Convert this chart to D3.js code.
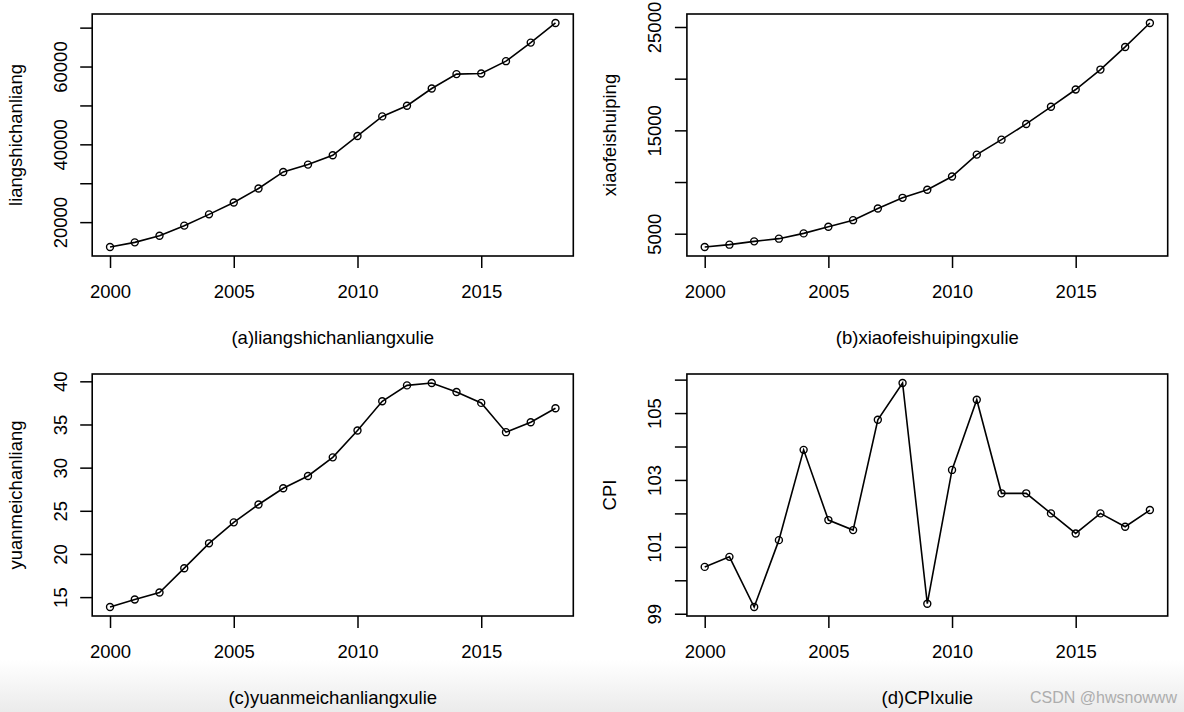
<!DOCTYPE html>
<html><head><meta charset="utf-8">
<script src="https://cdn.jsdelivr.net/npm/d3@7"></script>
<style>html,body{margin:0;padding:0;background:#fff;overflow:hidden}</style>
</head><body>
<svg id="chart" width="1184" height="712"></svg>
<script>
// ---- data ----
const years = [2000,2001,2002,2003,2004,2005,2006,2007,2008,2009,2010,2011,2012,2013,2014,2015,2016,2017,2018];
const xTicks = [2000,2005,2010,2015];
const liangshichanliang = [13600,14800,16500,19100,22000,25050,28640,32900,34790,37180,42150,47180,49920,54360,58050,58200,61380,66150,71200];
const xiaofeishuiping = [3710,3940,4260,4520,5030,5670,6310,7440,8470,9250,10530,12650,14100,15620,17280,18950,20880,23070,25390];
const yuanmeichanliang = [13.85,14.72,15.53,18.35,21.23,23.66,25.73,27.61,29.03,31.19,34.31,37.69,39.53,39.81,38.77,37.5,34.11,35.26,36.88];
const cpiValues = [100.4,100.7,99.2,101.2,103.9,101.8,101.5,104.8,105.9,99.3,103.3,105.4,102.6,102.6,102.0,101.4,102.0,101.6,102.1];

const yTicksA = [20000,30000,40000,50000,60000,70000];
const yLabelsA = ["20000","","40000","","60000",""];
const yTicksB = [5000,10000,15000,20000,25000];
const yLabelsB = ["5000","","15000","","25000"];
const yTicksC = [15,20,25,30,35,40];
const yLabelsC = ["15","20","25","30","35","40"];
const yTicksD = [99,100,101,102,103,104,105,106];
const yLabelsD = ["99","","101","","103","","105",""];

const titles = ["(a)liangshichanliangxulie","(b)xiaofeishuipingxulie","(c)yuanmeichanliangxulie","(d)CPIxulie"];
const yNames = ["liangshichanliang","xiaofeishuiping","yuanmeichanliang","CPI"];

// ---- layout ----
const svg = d3.select("#chart");
const FONT = "'Liberation Sans', Arial, Helvetica, sans-serif";
const FS = 18.5;

const defs = svg.append("defs");
const grad = defs.append("linearGradient").attr("id","bg").attr("x1",0).attr("y1",0).attr("x2",0).attr("y2",1);
grad.append("stop").attr("offset","0%").attr("stop-color","#ffffff");
grad.append("stop").attr("offset","100%").attr("stop-color","#ebebeb");
svg.append("rect").attr("x",0).attr("y",0).attr("width",1184).attr("height",712).attr("fill","#fff");
svg.append("rect").attr("x",0).attr("y",660).attr("width",1184).attr("height",52).attr("fill","url(#bg)");

const panels = [
  {vals: liangshichanliang, ticks: yTicksA, labels: yLabelsA, x0: 92.2, x1: 573.3, y0: 14, y1: 256},
  {vals: xiaofeishuiping,  ticks: yTicksB, labels: yLabelsB, x0: 686.9, x1: 1167.7, y0: 14, y1: 256},
  {vals: yuanmeichanliang, ticks: yTicksC, labels: yLabelsC, x0: 92.2, x1: 573.3, y0: 374, y1: 616},
  {vals: cpiValues,        ticks: yTicksD, labels: yLabelsD, x0: 686.9, x1: 1167.7, y0: 374, y1: 616}
];

function padded(ext){ const p = (ext[1]-ext[0])*0.04; return [ext[0]-p, ext[1]+p]; }

panels.forEach((p, i) => {
  const g = svg.append("g");
  const x = d3.scaleLinear().domain(padded(d3.extent(years))).range([p.x0, p.x1]);
  const y = d3.scaleLinear().domain(padded(d3.extent(p.vals))).range([p.y1, p.y0]);

  // line + points (type="o")
  const line = d3.line().x((d, k) => x(years[k])).y(d => y(d));
  g.append("path").datum(p.vals).attr("d", line)
    .attr("fill","none").attr("stroke","#000").attr("stroke-width",1.6);
  g.selectAll("circle").data(p.vals).join("circle")
    .attr("cx",(d,k)=>x(years[k])).attr("cy",d=>y(d)).attr("r",3.5)
    .attr("fill","none").attr("stroke","#000").attr("stroke-width",1.4);

  // box
  g.append("rect").attr("x",p.x0).attr("y",p.y0)
    .attr("width",p.x1-p.x0).attr("height",p.y1-p.y0)
    .attr("fill","none").attr("stroke","#000").attr("stroke-width",1.6);

  // x axis
  const xa = g.append("g").attr("transform",`translate(0,${p.y1})`)
    .call(d3.axisBottom(x).tickValues(xTicks).tickFormat(d3.format("d")).tickSize(12).tickPadding(17));
  xa.select(".domain").remove();
  xa.selectAll("line").attr("stroke","#000").attr("stroke-width",1.5);
  xa.selectAll("text").attr("font-family",FONT).attr("font-size",FS).attr("fill","#000");

  // y axis
  const ya = g.append("g").attr("transform",`translate(${p.x0},0)`)
    .call(d3.axisLeft(y).tickValues(p.ticks).tickFormat((d,k)=>p.labels[k]).tickSize(12));
  ya.select(".domain").remove();
  ya.selectAll("line").attr("stroke","#000").attr("stroke-width",1.5);
  ya.selectAll("text").attr("font-family",FONT).attr("font-size",FS).attr("fill","#000")
    .attr("text-anchor","middle").attr("x",0).attr("dy",0)
    .attr("transform","translate(-32,0) rotate(-90) translate(0,6.5)");

  // titles
  g.append("text").attr("x",(p.x0+p.x1)/2).attr("y",p.y1+88)
    .attr("text-anchor","middle").attr("font-family",FONT).attr("font-size",FS)
    .text(titles[i]);
  g.append("text").attr("transform",`translate(${p.x0-77+6.5},${(p.y0+p.y1)/2}) rotate(-90)`)
    .attr("text-anchor","middle").attr("font-family",FONT).attr("font-size",FS)
    .text(yNames[i]);
});

// watermark
svg.append("text").attr("x",1030).attr("y",703).attr("font-family",FONT).attr("font-size",16)
  .attr("fill","#adadad").text("CSDN @hwsnowww");
</script>
</body></html>
